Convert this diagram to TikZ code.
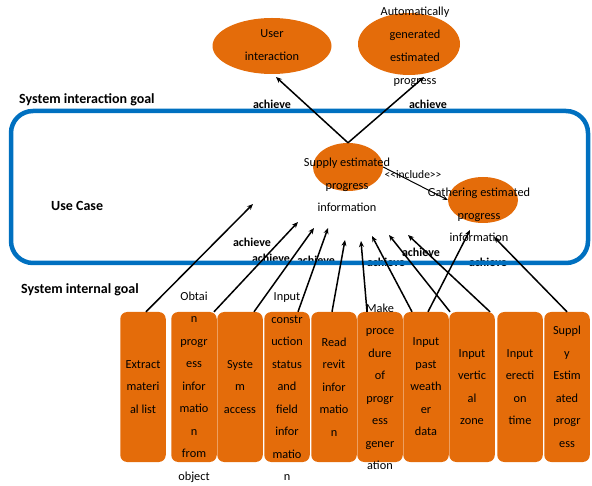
\documentclass[tikz,border=0pt]{standalone}
\usepackage{fontspec}
\setmainfont{Carlito}
\usetikzlibrary{arrows.meta,shapes.geometric}
\definecolor{ucorange}{RGB}{228,108,10}
\definecolor{ucblue}{RGB}{0,112,192}
\begin{document}
\begin{tikzpicture}[x=1pt,y=-1pt,
  goal/.style={ellipse,fill=ucorange,inner sep=0pt},
  txt/.style={font=\fontsize{12.3}{22.5}\selectfont,align=center,inner sep=0pt},
  etxt/.style={font=\fontsize{12.3}{23}\selectfont,align=center,inner sep=0pt},
  lbl/.style={font=\bfseries\fontsize{14}{16}\selectfont,inner sep=0pt},
  ach/.style={font=\bfseries\fontsize{12}{14}\selectfont,inner sep=0pt},
  taskbox/.style={rectangle,rounded corners=7pt,fill=ucorange,minimum width=45.5pt,minimum height=150pt,inner sep=0pt},
  conn/.style={line width=1.5pt,-{Stealth[length=6pt,width=5pt]}}
]
\useasboundingbox (0,0) rectangle (592,486);

% labels partly hidden by the boundary
\node[ach] (l5) at (252,242) {achieve};
\node[ach] (l6) at (271,258) {achieve};
\node[ach] (l7) at (316,260) {achieve};
\node[ach] (l8) at (386,262) {achieve};
\node[ach] (l9) at (421,252) {achieve};
\node[ach] (l10) at (488,262) {achieve};

% system boundary
\draw[ucblue,line width=4.5pt,rounded corners=22pt] (11,111) rectangle (588,263);

% goals
\node[goal,minimum width=119pt,minimum height=56pt] (ui) at (272,46) {};
\node[goal,minimum width=102pt,minimum height=62pt] (auto) at (409,44) {};
\node[goal,minimum width=70pt,minimum height=48pt] (sup) at (348,167) {};
\node[goal,minimum width=70pt,minimum height=46pt] (gat) at (483,200) {};

% tasks
\foreach \i/\x in {1/143,2/194,3/240,4/287,5/334,6/380,7/426,8/472,9/520,10/567}
  \node[taskbox] (b\i) at (\x,387) {};

% arrow targets
\coordinate (p1) at (253,204);
\coordinate (p2) at (298,222);
\coordinate (p3) at (314,228);
\coordinate (p4) at (328,228);
\coordinate (p5) at (345,240);
\coordinate (p6) at (361,241);
\coordinate (p7) at (372,236);
\coordinate (p8) at (389,235);
\coordinate (p9) at (408,235);
\coordinate (p10) at (470,230);
\coordinate (p11) at (494,237);
\coordinate (pu) at (276,77);
\coordinate (pa) at (424,77);

% connectors
\draw[conn] ([xshift=3pt]b1.north) -- (p1);
\draw[conn] ([xshift=20pt]b2.north) -- (p2);
\draw[conn] ([xshift=14pt]b3.north) -- (p3);
\draw[conn] ([xshift=11pt]b4.north) -- (p4);
\draw[conn] ([xshift=-2pt]b5.north) -- (p5);
\draw[conn] ([xshift=-13pt]b6.north) -- (p6);
\draw[conn] ([xshift=-14pt]b7.north) -- (p7);
\draw[conn] ([xshift=2pt]b7.north) -- (p10);
\draw[conn] ([xshift=-22pt]b8.north) -- (p8);
\draw[conn] ([xshift=18pt]b8.north) -- (p9);
\draw[conn] (b10.north) -- (p11);
\draw[conn] (sup.north) -- (pu);
\draw[conn] (sup.north) -- (pa);
\draw[line width=1pt,-{Stealth[length=5pt,width=4pt]}] (sup.east) -- (gat.west);

% texts
\node[lbl,anchor=west] (sig) at (19,100) {System interaction goal};
\node[lbl,anchor=west] (uc) at (51,206) {Use Case};
\node[lbl,anchor=west] (sing) at (21,290) {System internal goal};
\node[ach] (l1) at (272,104) {achieve};
\node[ach] (l2) at (428,104) {achieve};
\node[font=\fontsize{11.5}{13}\selectfont,inner sep=0pt] (inc) at (413,175) {<{}<include>{}>};

\node[etxt] (uit) at (272,45) {User\\interaction};
\node[etxt] (autot) at (415,47) {Automatically\\generated\\estimated\\progress};
\node[txt] (supt) at (347,185) {Supply estimated\\progress\\information};
\node[txt] (gatt) at (479,215) {Gathering estimated\\progress\\information};

\node[txt] (t1) at (b1) {Extract\\materi\\al list};
\node[txt] (t2) at (b2) {Obtai\\n\\progr\\ess\\infor\\matio\\n\\from\\object};
\node[txt] (t3) at (b3) {Syste\\m\\access};
\node[txt] (t4) at (b4) {Input\\constr\\uction\\status\\and\\field\\infor\\matio\\n};
\node[txt] (t5) at (b5) {Read\\revit\\infor\\matio\\n};
\node[txt] (t6) at (b6) {Make\\proce\\dure\\of\\progr\\ess\\gener\\ation};
\node[txt] (t7) at (b7) {Input\\past\\weath\\er\\data};
\node[txt] (t8) at (b8) {Input\\vertic\\al\\zone};
\node[txt] (t9) at (b9) {Input\\erecti\\on\\time};
\node[txt] (t10) at (b10) {Suppl\\y\\Estim\\ated\\progr\\ess};
\end{tikzpicture}
\end{document}
